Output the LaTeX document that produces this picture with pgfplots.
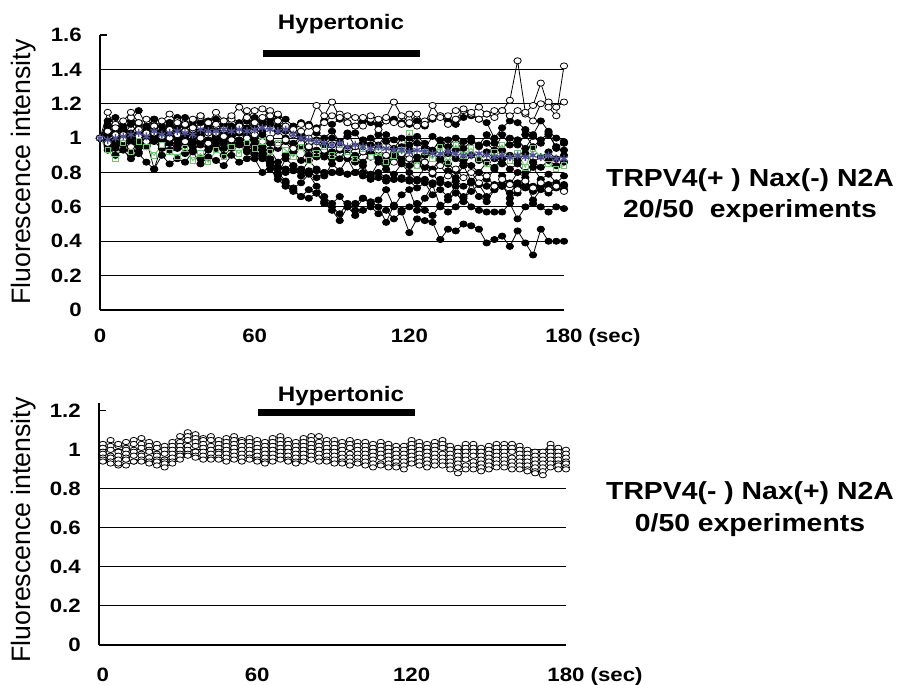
\documentclass[border=0pt]{standalone}
\usepackage{fontspec}
\setmainfont{Liberation Sans}
\newfontfamily\wide[FakeStretch=1.15]{Liberation Sans}
\usepackage{pgfplots}
\usepackage{pgfplotstable}
\pgfplotsset{compat=1.18}

\pgfplotstableread{
t O1 O2 O3 B1 B2 B3 B4 B5 B6 B7 B8 B9 B10 B11 G M
0 1.00 1.00 1.00 1.00 1.00 1.00 1.00 1.00 1.00 1.00 1.00 1.00 1.00 1.00 1.00 1.00
3 1.15 1.04 0.97 0.96 1.07 0.93 1.02 0.98 1.05 1.10 1.08 0.95 1.03 0.99 0.93 0.99
6 1.06 1.08 1.02 1.03 0.98 0.97 0.95 0.94 1.01 1.04 1.12 0.90 0.99 1.05 0.88 1.00
9 1.10 1.02 0.99 0.98 1.04 1.01 1.06 0.97 0.96 1.07 1.05 0.93 1.06 1.01 0.97 1.01
12 1.15 1.12 0.95 0.93 1.01 0.90 0.98 1.00 1.03 1.02 1.10 0.88 1.02 1.08 0.92 1.02
15 1.09 1.05 1.01 1.00 0.97 0.95 1.03 0.92 1.08 1.09 1.16 0.91 0.97 1.03 0.98 1.03
18 1.11 1.03 0.98 0.95 1.06 0.99 0.96 0.96 0.99 1.05 1.07 0.86 1.04 1.00 0.95 1.01
21 1.07 1.07 1.03 0.99 1.02 0.82 1.01 0.98 1.04 1.11 1.11 0.82 1.00 1.06 0.90 1.04
24 1.10 1.01 0.96 1.02 0.99 0.96 1.07 0.94 1.00 1.03 1.04 0.90 0.96 1.02 0.96 1.02
27 1.14 1.05 1.00 0.97 1.05 0.93 0.99 0.97 1.06 1.08 1.09 0.85 1.02 1.09 0.92 1.03
30 1.09 1.10 1.02 0.94 1.01 0.97 1.04 0.95 1.02 1.06 1.12 0.88 0.99 1.05 0.89 1.04
33 1.08 1.04 0.98 1.01 0.98 0.91 0.96 0.99 1.07 1.12 1.07 0.86 1.03 1.01 0.94 1.03
36 1.11 1.06 1.05 0.97 1.06 0.95 1.02 0.93 0.98 1.04 1.10 0.92 0.97 1.07 0.87 1.02
39 1.13 1.12 1.00 1.03 1.02 0.88 0.98 0.96 1.04 1.09 1.13 0.85 1.01 1.03 0.91 1.05
42 1.09 1.03 0.97 0.99 0.97 0.93 1.05 0.98 1.09 1.07 1.06 0.89 0.95 1.10 0.86 1.04
45 1.15 1.08 1.03 0.95 1.04 0.97 0.99 0.94 1.01 1.03 1.11 0.87 1.00 1.04 0.93 1.04
48 1.10 1.05 1.01 1.02 1.00 0.90 0.94 0.97 1.05 1.10 1.08 0.84 0.98 1.08 0.89 1.05
51 1.13 1.11 0.99 0.98 1.07 0.94 1.03 0.95 0.99 1.06 1.12 0.90 1.02 1.02 0.95 1.04
54 1.18 1.07 1.04 1.04 1.03 0.96 0.97 0.99 1.06 1.08 1.09 0.86 0.97 1.06 0.91 1.05
57 1.12 1.16 1.00 1.00 0.99 0.92 1.01 0.96 1.03 1.05 1.06 0.88 0.93 1.10 0.97 1.04
60 1.16 1.09 1.02 0.97 1.01 0.95 0.98 0.93 1.00 1.10 1.12 0.91 0.88 1.06 0.94 1.05
63 1.17 1.12 0.98 0.90 0.95 0.91 0.93 0.89 1.04 1.08 1.10 0.88 0.80 1.02 0.98 1.06
66 1.13 1.16 1.00 0.82 0.88 0.86 0.86 0.85 0.97 1.11 1.08 0.93 0.84 0.99 0.92 1.05
69 1.10 1.14 0.96 0.76 0.80 0.83 0.78 0.83 0.94 1.07 1.13 0.86 0.79 1.04 0.97 1.04
72 1.07 1.06 0.99 0.72 0.75 0.80 0.74 0.82 0.98 1.04 1.11 0.90 0.88 1.00 0.93 1.05
75 1.05 1.02 0.94 0.69 0.70 0.84 0.71 0.81 0.92 1.06 1.07 0.92 0.84 0.97 0.89 1.02
78 1.08 1.04 0.97 0.66 0.66 0.78 0.74 0.82 0.95 1.02 1.09 0.87 0.80 1.01 0.95 1.00
81 1.07 1.00 0.95 0.70 0.65 0.81 0.79 0.80 0.90 1.07 1.08 0.94 0.87 0.95 0.87 0.99
84 1.19 1.05 0.98 0.68 0.68 0.77 0.72 0.81 0.93 1.03 1.06 0.89 0.82 0.99 0.91 0.98
87 1.13 1.09 0.93 0.63 0.62 0.80 0.66 0.80 0.89 1.00 1.10 0.91 0.78 0.96 0.95 0.97
90 1.21 1.13 0.96 0.58 0.60 0.80 0.62 0.80 0.92 1.04 1.08 0.88 0.85 1.00 0.90 0.96
93 1.12 1.14 0.94 0.52 0.56 0.80 0.66 0.80 0.88 0.98 1.11 0.93 0.81 0.97 0.96 0.97
96 1.13 1.09 0.90 0.60 0.62 0.79 0.60 0.79 0.94 1.01 1.09 0.90 0.88 1.03 0.92 0.95
99 1.12 1.07 0.95 0.55 0.58 0.80 0.62 0.80 0.90 1.03 1.07 0.86 0.80 0.95 0.88 0.96
102 1.07 1.12 0.92 0.58 0.65 0.78 0.65 0.80 0.86 0.97 1.10 0.92 0.84 0.99 0.94 0.95
105 1.13 1.11 0.89 0.60 0.63 0.76 0.62 0.79 0.91 1.00 1.09 0.89 0.78 0.96 0.89 0.94
108 1.11 1.05 0.93 0.56 0.60 0.77 0.64 0.80 0.88 0.96 1.08 0.94 0.86 1.02 0.92 0.95
111 1.12 1.10 0.90 0.58 0.51 0.75 0.70 0.77 0.85 1.02 1.10 0.87 0.82 0.98 0.86 0.94
114 1.21 1.09 0.86 0.53 0.61 0.76 0.60 0.76 0.90 0.99 1.11 0.91 0.79 0.94 0.90 0.93
117 1.13 1.08 0.91 0.57 0.58 0.77 0.67 0.76 0.87 0.95 1.09 0.88 0.85 1.00 0.93 0.93
120 1.09 1.14 0.88 0.45 0.60 0.75 0.70 0.76 0.84 1.00 1.08 0.93 0.80 0.96 1.03 0.92
123 1.14 1.07 0.84 0.53 0.62 0.71 0.58 0.75 0.89 0.97 1.10 0.86 0.76 1.01 0.84 0.93
126 1.08 1.10 0.86 0.52 0.58 0.74 0.65 0.76 0.86 0.94 1.07 0.90 0.83 0.97 0.92 0.92
129 1.19 1.12 0.80 0.51 0.55 0.67 0.73 0.74 0.82 1.01 1.11 0.92 0.79 0.93 0.88 0.91
132 1.12 1.13 0.84 0.41 0.61 0.70 0.60 0.76 0.88 0.96 1.13 0.87 0.74 0.99 0.95 0.91
135 1.13 1.08 0.78 0.47 0.57 0.66 0.64 0.73 0.85 0.99 1.10 0.91 0.81 0.95 0.86 0.92
138 1.16 1.11 0.82 0.46 0.60 0.72 0.68 0.75 0.81 0.93 1.08 0.88 0.77 1.00 0.96 0.91
141 1.17 1.16 0.77 0.50 0.66 0.65 0.63 0.72 0.87 0.98 1.12 0.85 0.84 0.94 0.90 0.90
144 1.15 1.14 0.80 0.49 0.60 0.69 0.74 0.74 0.84 1.00 1.13 0.90 0.75 0.98 0.94 0.90
147 1.18 1.11 0.74 0.47 0.58 0.73 0.66 0.73 0.80 0.95 1.11 0.87 0.80 0.96 0.88 0.91
150 1.14 1.14 0.78 0.39 0.57 0.66 0.63 0.72 0.86 0.97 1.09 0.92 0.76 1.02 0.85 0.90
153 1.16 1.12 0.72 0.41 0.57 0.70 0.70 0.73 0.83 0.93 1.00 0.88 0.82 0.97 0.92 0.89
156 1.16 1.16 0.76 0.43 0.57 0.72 0.73 0.72 0.88 1.02 1.06 0.85 0.78 0.93 0.96 0.90
159 1.22 1.13 0.73 0.37 0.62 0.68 0.65 0.74 0.82 0.96 1.10 0.90 0.73 1.00 0.87 0.89
162 1.45 1.16 0.70 0.46 0.53 0.74 0.68 0.72 0.85 0.99 1.09 0.87 0.80 0.96 0.91 0.90
165 1.15 1.14 0.75 0.39 0.60 0.71 0.75 0.73 0.80 0.94 1.05 0.91 0.77 1.02 0.83 0.89
168 1.19 1.10 0.71 0.32 0.62 0.69 0.64 0.72 0.86 1.01 1.02 0.86 0.83 0.95 0.94 0.90
171 1.32 1.20 0.74 0.47 0.60 0.73 0.70 0.72 0.83 0.97 1.10 0.89 0.76 0.99 0.89 0.89
174 1.18 1.21 0.70 0.40 0.57 0.70 0.68 0.73 0.87 1.02 1.04 0.92 0.79 1.03 0.85 0.90
177 1.13 1.18 0.72 0.40 0.60 0.72 0.71 0.72 0.84 0.95 1.00 0.88 0.74 0.94 0.82 0.88
180 1.42 1.21 0.69 0.40 0.59 0.72 0.70 0.73 0.86 0.97 0.98 0.90 0.78 0.93 0.84 0.88
}\topdata

\pgfplotstableread{
t C1 C2 C3 C4 C5 C6 C7
0 1.03 1.01 0.99 0.98 0.96 0.95 0.94
3 1.05 1.02 1.00 0.97 0.96 0.94 0.93
6 1.02 1.03 0.99 0.97 0.95 0.92 0.93
9 1.04 1.01 1.00 0.98 0.96 0.95 0.92
12 1.05 1.03 1.00 0.99 0.97 0.94 0.94
15 1.06 1.03 1.01 0.98 0.97 0.95 0.94
18 1.04 1.02 1.00 0.99 0.96 0.94 0.93
21 1.03 1.01 0.98 0.97 0.95 0.94 0.92
24 1.02 1.00 0.98 0.95 0.94 0.93 0.91
27 1.04 1.02 1.00 0.98 0.96 0.94 0.93
30 1.07 1.04 1.02 1.00 0.98 0.97 0.95
33 1.09 1.07 1.05 1.02 1.00 0.98 0.97
36 1.08 1.06 1.04 1.02 0.99 0.97 0.96
39 1.06 1.05 1.03 1.01 0.99 0.97 0.95
42 1.07 1.05 1.02 1.00 0.98 0.96 0.95
45 1.05 1.03 1.01 0.99 0.98 0.96 0.95
48 1.06 1.04 1.02 1.00 0.98 0.96 0.94
51 1.07 1.05 1.03 1.01 0.99 0.97 0.95
54 1.05 1.04 1.02 1.00 0.98 0.96 0.94
57 1.06 1.04 1.02 1.00 0.98 0.96 0.95
60 1.05 1.03 1.01 0.99 0.97 0.95 0.94
63 1.04 1.02 1.00 0.98 0.96 0.94 0.93
66 1.06 1.04 1.02 1.00 0.98 0.96 0.94
69 1.07 1.05 1.03 1.01 0.99 0.97 0.95
72 1.05 1.03 1.01 0.99 0.97 0.95 0.94
75 1.04 1.02 1.00 0.98 0.96 0.94 0.93
78 1.06 1.04 1.02 1.00 0.98 0.96 0.94
81 1.07 1.05 1.03 1.01 0.99 0.97 0.95
84 1.07 1.04 1.02 1.00 0.98 0.96 0.94
87 1.05 1.03 1.01 0.99 0.97 0.95 0.94
90 1.05 1.03 1.01 0.99 0.97 0.95 0.93
93 1.04 1.02 1.00 0.98 0.96 0.94 0.93
96 1.05 1.03 1.01 0.98 0.96 0.94 0.92
99 1.04 1.02 1.00 0.98 0.96 0.94 0.93
102 1.04 1.02 1.00 0.98 0.96 0.94 0.92
105 1.03 1.01 0.99 0.97 0.95 0.93 0.91
108 1.04 1.02 1.00 0.98 0.96 0.93 0.92
111 1.03 1.01 0.99 0.97 0.95 0.93 0.91
114 1.02 1.00 0.98 0.96 0.94 0.92 0.91
117 1.02 1.00 0.98 0.96 0.94 0.92 0.90
120 1.05 1.03 1.01 0.99 0.97 0.95 0.93
123 1.04 1.02 1.00 0.98 0.96 0.94 0.92
126 1.03 1.01 0.99 0.97 0.95 0.93 0.91
129 1.04 1.02 1.00 0.98 0.96 0.94 0.92
132 1.05 1.03 1.01 0.98 0.96 0.94 0.92
135 1.02 1.00 0.98 0.96 0.94 0.92 0.90
138 1.01 0.99 0.97 0.95 0.93 0.91 0.88
141 1.03 1.01 0.99 0.97 0.95 0.92 0.90
144 1.03 1.01 0.99 0.97 0.94 0.92 0.90
147 1.01 0.99 0.97 0.95 0.93 0.91 0.89
150 1.02 1.00 0.98 0.96 0.94 0.92 0.90
153 1.03 1.01 0.99 0.97 0.95 0.93 0.91
156 1.03 1.01 0.99 0.97 0.95 0.93 0.91
159 1.03 1.01 0.99 0.96 0.94 0.92 0.90
162 1.02 1.00 0.98 0.96 0.94 0.92 0.90
165 1.00 0.98 0.96 0.94 0.92 0.90 0.89
168 0.99 0.97 0.95 0.93 0.91 0.89 0.88
171 0.99 0.97 0.95 0.93 0.91 0.89 0.87
174 1.03 1.01 0.99 0.97 0.95 0.93 0.91
177 1.01 0.99 0.97 0.95 0.93 0.92 0.90
180 1.00 0.98 0.96 0.94 0.93 0.91 0.90
}\botdata

\definecolor{grn}{RGB}{110,200,110}
\definecolor{meanc}{RGB}{80,80,150}

\pgfplotsset{
  panel/.style={
    scale only axis, clip=false,
    axis x line*=bottom, axis y line*=left,
    axis line style={black, line width=0.8pt},
    xtick={0,60,120,180},
    xticklabels={0,60,120,{180\rlap{\ (sec)}}},
    xtick style={draw=none},
    ytick style={black, line width=0.8pt},
    tick align=inside, major tick length=5pt,
    ymajorgrids, grid style={black, line width=0.8pt},
    ticklabel style={font=\wide\bfseries\fontsize{14.5pt}{14.5pt}\selectfont},
    yticklabel style={anchor=east, inner sep=0pt, xshift=-13.5pt},
    /pgf/number format/assume math mode=true,
  },
  blk/.style={black, line width=0.6pt, mark=*, mark size=2.3pt, mark options={xscale=1.2, fill=black, solid}},
  opn/.style={black, line width=0.6pt, mark=*, mark size=2.3pt, mark options={xscale=1.2, fill=white, draw=black, line width=0.6pt, solid}},
  bopn/.style={black, line width=0.5pt, mark=*, mark size=2pt, mark options={xscale=1.35, fill=white, draw=black, line width=0.6pt, solid}},
}

\begin{document}
\begin{tikzpicture}
\path[use as bounding box] (0,0) rectangle (675.75pt,513.75pt);

% ---------- top panel ----------
\begin{axis}[panel,
  at={(75pt,281.25pt)}, anchor=south west,
  width=348pt, height=206.25pt,
  xmin=0, xmax=180, ymin=0, ymax=1.6,
  ytick={0,0.2,0.4,0.6,0.8,1,1.2,1.4},
  extra y ticks={1.6}, extra y tick style={grid=none},
  xticklabel style={anchor=north, inner sep=0pt, yshift=-14pt},
]
\foreach \s in {B1,B2,B3,B4,B5,B6,B7,B8,B9,B10,B11}{
  \addplot[blk] table[x=t, y=\s] {\topdata};
}
\addplot[opn] table[x=t, y=O3] {\topdata};
\addplot[grn, line width=0.7pt, mark=square, mark size=2pt, mark options={fill=white, solid}] table[x=t, y=G] {\topdata};
\addplot[opn] table[x=t, y=O2] {\topdata};
\addplot[opn] table[x=t, y=O1] {\topdata};
\addplot[meanc, densely dashed, line width=1pt, mark=asterisk, mark size=3pt, mark options={solid, line width=1pt}] table[x=t, y=M] {\topdata};
\addplot[black, line width=5.25pt, no marks] coordinates {(63.2,1.491) (124.1,1.491)};
\end{axis}

% ---------- bottom panel ----------
\begin{axis}[panel,
  at={(74.25pt,30pt)}, anchor=south west,
  width=350.25pt, height=181.5pt,
  xmin=-1.5, xmax=180, ymin=0, ymax=1.24,
  ytick={0,0.2,0.4,0.6,0.8,1},
  extra y ticks={1.2}, extra y tick style={grid=none},
  xticklabel style={anchor=north, inner sep=0pt, yshift=-17pt},
]
\foreach \s in {C1,C2,C3,C4,C5,C6,C7}{
  \addplot[bopn] table[x=t, y=\s] {\botdata};
}
\addplot[black, line width=5.25pt, no marks] coordinates {(60.3,1.191) (121.3,1.191)};
\end{axis}

% ---------- texts ----------
\node[rotate=90, font=\fontsize{20pt}{20pt}\selectfont] at (18pt,384.75pt) {Fluorescence intensity};
\node[rotate=90, font=\fontsize{20pt}{20pt}\selectfont] at (18pt,116.25pt) {Fluorescence intensity};

\node[anchor=base, font=\wide\bfseries\fontsize{15.75pt}{16pt}\selectfont] at (255.75pt,491.25pt) {Hypertonic};
\node[anchor=base, font=\wide\bfseries\fontsize{15.75pt}{16pt}\selectfont] at (255.75pt,212.25pt) {Hypertonic};

\node[anchor=base, font=\wide\bfseries\fontsize{18.5pt}{19pt}\selectfont] at (562.5pt,373.5pt) {TRPV4(+ ) Nax(-) N2A};
\node[anchor=base, font=\wide\bfseries\fontsize{18.5pt}{19pt}\selectfont] at (562.5pt,350.25pt) {20/50~~experiments};
\node[anchor=base, font=\wide\bfseries\fontsize{18.5pt}{19pt}\selectfont] at (562.5pt,138.75pt) {TRPV4(- ) Nax(+) N2A};
\node[anchor=base, font=\wide\bfseries\fontsize{18.5pt}{19pt}\selectfont] at (562.5pt,114.75pt) {0/50 experiments};
\end{tikzpicture}
\end{document}
